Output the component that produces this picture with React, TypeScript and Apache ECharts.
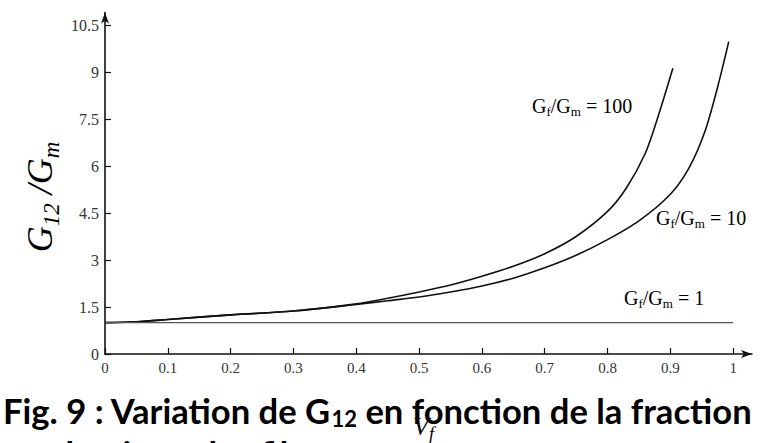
import React, { useEffect, useRef } from "react";
import * as echarts from "echarts";

// Axis ticks
const xTicks = [0, 0.1, 0.2, 0.3, 0.4, 0.5, 0.6, 0.7, 0.8, 0.9, 1];
const xTickLabels = ["0", "0.1", "0.2", "0.3", "0.4", "0.5", "0.6", "0.7", "0.8", "0.9", "1"];
const yTicks = [0, 1.5, 3, 4.5, 6, 7.5, 9, 10.5];
const yTickLabels = ["0", "1.5", "3", "4.5", "6", "7.5", "9", "10.5"];

// Gf/Gm = 100
const vf100 = [0, 0.05, 0.1, 0.2, 0.3, 0.4, 0.45, 0.5, 0.55, 0.6, 0.65, 0.7, 0.75, 0.8, 0.83, 0.86, 0.88, 0.904];
const g100 = [1.0, 1.03, 1.1, 1.25, 1.37, 1.6, 1.78, 1.98, 2.2, 2.48, 2.8, 3.2, 3.75, 4.55, 5.3, 6.4, 7.55, 9.12];
// Gf/Gm = 10
const vf10 = [0, 0.05, 0.1, 0.2, 0.3, 0.4, 0.45, 0.5, 0.55, 0.6, 0.65, 0.7, 0.75, 0.8, 0.85, 0.9, 0.93, 0.955, 0.975, 0.993];
const g10 = [1.0, 1.03, 1.1, 1.25, 1.37, 1.58, 1.7, 1.82, 1.98, 2.17, 2.42, 2.75, 3.15, 3.65, 4.25, 5.1, 5.95, 7.1, 8.5, 9.97];
// Gf/Gm = 1
const vf1 = [0, 1];
const g1 = [1, 1];

const ratioLabels = ["100", "10", "1"];

const titleLine1a = "Fig. 9 : Variation de G";
const titleSub = "12";
const titleLine1b = " en fonction de la fraction";
const titleLine2 = "volumique des fibres";

const serif = "'Liberation Serif', 'DejaVu Serif', serif";

function measure(text: string, font: string): number {
  const c = document.createElement("canvas").getContext("2d");
  if (!c) return 0;
  c.font = font;
  return c.measureText(text).width;
}

export default function App() {
  const ref = useRef<HTMLDivElement>(null);

  useEffect(() => {
    if (!ref.current) return;
    const chart = echarts.init(ref.current, undefined, { renderer: "svg" });

    // fit title width to ~749px
    const base = 100;
    const w =
      measure(titleLine1a + titleLine1b, `bold ${base}px Lato`) +
      measure(titleSub, `bold ${base * 0.65}px Lato`);
    const tSize = Math.round((base * 749) / w * 10) / 10;
    const tSub = Math.round(tSize * 0.65);

    const pairs = (xs: number[], ys: number[]) => xs.map((x, i) => [x, ys[i]]);

    const ratioRich = {
      n: { fontFamily: serif, fontSize: 20, color: "#333" },
      s: { fontFamily: serif, fontSize: 13, color: "#333", padding: [11, 0, 0, 0] },
    };
    const ratioText = (v: string) => `{n|G}{s|f}{n|/G}{s|m}{n| = ${v}}`;

    const option: any = {
      animation: false,
      backgroundColor: "#fff",
      grid: { left: 105, right: 15, top: 12.5, bottom: 89 },
      xAxis: {
        type: "value",
        min: 0,
        max: 1.03,
        axisLine: {
          show: true,
          symbol: ["none", "arrow"],
          symbolSize: [6, 11],
          lineStyle: { color: "#111", width: 1.6 },
        },
        axisTick: {
          show: true,
          inside: true,
          length: 6,
          customValues: xTicks,
          lineStyle: { color: "#111", width: 1.2 },
        },
        axisLabel: {
          customValues: xTicks,
          margin: 6,
          fontFamily: serif,
          fontSize: 15,
          color: "#333",
          formatter: (v: number) => {
            const i = xTicks.findIndex((t) => Math.abs(t - v) < 1e-6);
            return i >= 0 ? xTickLabels[i] : "";
          },
        },
        splitLine: { show: false },
      },
      yAxis: {
        type: "value",
        min: 0,
        max: 10.9,
        axisLine: {
          show: true,
          symbol: ["none", "arrow"],
          symbolSize: [6, 11],
          lineStyle: { color: "#111", width: 1.6 },
        },
        axisTick: {
          show: true,
          inside: true,
          length: 6,
          customValues: yTicks,
          lineStyle: { color: "#111", width: 1.2 },
        },
        axisLabel: {
          customValues: yTicks,
          margin: 6,
          fontFamily: serif,
          fontSize: 16,
          color: "#333",
          formatter: (v: number) => {
            const i = yTicks.findIndex((t) => Math.abs(t - v) < 1e-6);
            return i >= 0 ? yTickLabels[i] : "";
          },
        },
        splitLine: { show: false },
      },
      series: [
        {
          name: "Gf/Gm = 100",
          type: "line",
          data: pairs(vf100, g100),
          smooth: 0.3,
          showSymbol: false,
          lineStyle: { color: "#111", width: 1.6 },
        },
        {
          name: "Gf/Gm = 10",
          type: "line",
          data: pairs(vf10, g10),
          smooth: 0.3,
          showSymbol: false,
          lineStyle: { color: "#111", width: 1.6 },
        },
        {
          name: "Gf/Gm = 1",
          type: "line",
          data: pairs(vf1, g1),
          showSymbol: false,
          lineStyle: { color: "#555", width: 1.3 },
        },
      ],
      graphic: [
        // curve labels
        {
          type: "text",
          left: 532,
          top: 96,
          style: { text: ratioText(ratioLabels[0]), rich: ratioRich },
        },
        {
          type: "text",
          left: 656,
          top: 208,
          style: { text: ratioText(ratioLabels[1]), rich: ratioRich },
        },
        {
          type: "text",
          left: 624,
          top: 288,
          style: { text: ratioText(ratioLabels[2]), rich: ratioRich },
        },
        // y-axis name
        {
          type: "text",
          x: 40,
          y: 197,
          rotation: Math.PI / 2,
          style: {
            text: "{g|G}{s|12}{g| /G}{s|m}",
            align: "center",
            verticalAlign: "middle",
            rich: {
              g: { fontFamily: serif, fontStyle: "italic", fontSize: 36, color: "#111" },
              s: {
                fontFamily: serif,
                fontStyle: "italic",
                fontSize: 23,
                color: "#111",
                padding: [22, 0, 0, 0],
              },
            },
          },
        },
        // x-axis name (mostly hidden under the caption)
        {
          type: "text",
          x: 413,
          y: 409,
          z: 1,
          style: {
            text: "{v|V}{f|f}",
            rich: {
              v: { fontFamily: serif, fontStyle: "italic", fontSize: 26, color: "#22306a" },
              f: {
                fontFamily: serif,
                fontStyle: "italic",
                fontSize: 18,
                color: "#22306a",
                padding: [16, 0, 0, 0],
              },
            },
          },
        },
        // caption
        {
          type: "text",
          x: 3,
          y: 391,
          z: 10,
          style: {
            text: `{b|${titleLine1a}}{s|${titleSub}}{b|${titleLine1b}}`,
            rich: {
              b: { fontFamily: "Lato", fontWeight: "bold", fontSize: tSize, color: "#000" },
              s: {
                fontFamily: "Lato",
                fontWeight: "bold",
                fontSize: tSub,
                color: "#000",
                padding: [Math.round(tSize * 0.45), 0, 0, 0],
              },
            },
          },
        },
        {
          type: "text",
          x: 28,
          y: 436,
          z: 10,
          style: {
            text: titleLine2,
            fontFamily: "Lato",
            fontWeight: "bold",
            fontSize: tSize,
            fill: "#000",
          },
        },
      ],
    };

    chart.setOption(option);
    return () => chart.dispose();
  }, []);

  return (
    <div
      ref={ref}
      style={{ position: "absolute", left: 0, top: 0, width: 767, height: 443, background: "#fff", overflow: "hidden" }}
    />
  );
}
